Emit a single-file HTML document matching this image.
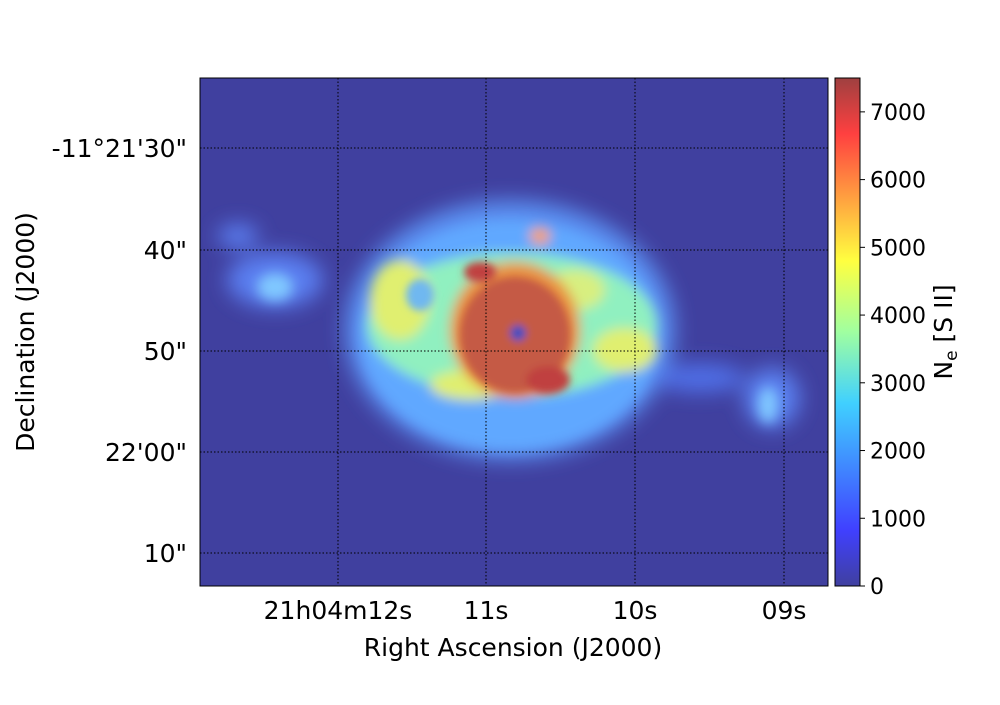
<!DOCTYPE html>
<html><head><meta charset="utf-8"><style>
body{margin:0;background:#fff;font-family:"Liberation Sans","DejaVu Sans",sans-serif}
svg text{font-family:"DejaVu Sans","Liberation Sans",sans-serif;fill:#000}
</style></head><body>
<svg width="1000" height="700" viewBox="0 0 1000 700">
<defs>
<filter id="b8" x="-50%" y="-50%" width="200%" height="200%"><feGaussianBlur stdDeviation="6"/></filter>
<filter id="b14" x="-50%" y="-50%" width="200%" height="200%"><feGaussianBlur stdDeviation="10"/></filter>
<filter id="b5" x="-50%" y="-50%" width="200%" height="200%"><feGaussianBlur stdDeviation="4"/></filter>
<linearGradient id="jet" x1="0" y1="1" x2="0" y2="0">
<stop offset="0" stop-color="#40409f"/><stop offset="0.11" stop-color="#4040ff"/>
<stop offset="0.36" stop-color="#40d0ff"/><stop offset="0.5" stop-color="#a0ffa0"/>
<stop offset="0.64" stop-color="#ffff40"/><stop offset="0.89" stop-color="#ff4040"/>
<stop offset="1" stop-color="#9f4040"/></linearGradient>
<clipPath id="clip"><rect x="200" y="78" width="628" height="508"/></clipPath>
</defs>
<g>
<rect x="200" y="78" width="628" height="508" fill="#40409f"/>
<g clip-path="url(#clip)">
<g filter="url(#b14)">
<ellipse cx="510" cy="330" rx="165" ry="130" fill="#5a8ef0"/>
<ellipse cx="275" cy="280" rx="48" ry="28" fill="#5a7ef0"/>
<ellipse cx="238" cy="236" rx="20" ry="12" fill="#5a7ef0"/>
<ellipse cx="772" cy="398" rx="28" ry="30" fill="#5a80f0"/>
<ellipse cx="700" cy="378" rx="45" ry="14" fill="#5070e8"/>
</g>
<g filter="url(#b8)">
<ellipse cx="510" cy="335" rx="150" ry="115" fill="#60a8ff"/>
<ellipse cx="275" cy="287" rx="18" ry="14" fill="#80c8ff"/>
<ellipse cx="768" cy="405" rx="10" ry="18" fill="#80c8ff"/>
<ellipse cx="512" cy="325" rx="145" ry="72" fill="#90f0c0"/>
<ellipse cx="400" cy="300" rx="30" ry="40" fill="#e0ef70"/>
<ellipse cx="625" cy="350" rx="32" ry="22" fill="#e0ef70"/>
<ellipse cx="470" cy="385" rx="40" ry="15" fill="#e0ef70"/>
<ellipse cx="575" cy="290" rx="30" ry="20" fill="#d8ef80"/>
<ellipse cx="540" cy="236" rx="10" ry="8" fill="#ffa040"/>
<ellipse cx="515" cy="330" rx="65" ry="68" fill="#e89040"/>
</g>
<g filter="url(#b5)">
<ellipse cx="420" cy="295" rx="14" ry="16" fill="#70b8f0"/>
<ellipse cx="515" cy="335" rx="55" ry="58" fill="#c55a45"/>
<ellipse cx="480" cy="272" rx="16" ry="10" fill="#c04040"/>
<ellipse cx="548" cy="380" rx="22" ry="14" fill="#c04040"/>
<ellipse cx="518" cy="333" rx="8" ry="8" fill="#4050c0"/>
</g>
</g>
</g>
<g stroke="#000" stroke-width="1" stroke-dasharray="1.5,2">
<line x1="338" y1="78" x2="338" y2="586"/><line x1="486" y1="78" x2="486" y2="586"/>
<line x1="635" y1="78" x2="635" y2="586"/><line x1="784" y1="78" x2="784" y2="586"/>
<line x1="200" y1="148" x2="828" y2="148"/><line x1="200" y1="250" x2="828" y2="250"/>
<line x1="200" y1="351" x2="828" y2="351"/><line x1="200" y1="452" x2="828" y2="452"/>
<line x1="200" y1="553" x2="828" y2="553"/>
</g>
<rect x="200" y="78" width="628" height="508" fill="none" stroke="#000" stroke-width="1"/>
<g font-size="25" text-anchor="end">
<text x="187" y="157">-11°21'30"</text><text x="187" y="259">40"</text>
<text x="187" y="360">50"</text><text x="187" y="461">22'00"</text><text x="187" y="562">10"</text>
</g>
<g font-size="25" text-anchor="middle">
<text x="338" y="619">21h04m12s</text><text x="486" y="619">11s</text>
<text x="635" y="619">10s</text><text x="784" y="619">09s</text>
</g>
<text x="513" y="656" font-size="25" text-anchor="middle">Right Ascension (J2000)</text>
<text transform="translate(34,332) rotate(-90)" font-size="25" text-anchor="middle">Declination (J2000)</text>
<g>
<rect x="835" y="78" width="25" height="508" fill="url(#jet)" stroke="#000" stroke-width="1"/>
<g font-size="22" id="cbt"></g>
<text transform="translate(952,332) rotate(-90)" font-size="25" text-anchor="middle">N<tspan font-size="17" dy="5">e</tspan><tspan dy="-5"> [S II]</tspan></text>
</g>
</svg>
<script>
const cbTicks=[0,1000,2000,3000,4000,5000,6000,7000];
const cbMax=7500;
const g=document.getElementById('cbt');
cbTicks.forEach(v=>{
 const y=586-v/cbMax*508;
 const l=document.createElementNS('http://www.w3.org/2000/svg','line');
 l.setAttribute('x1',860);l.setAttribute('x2',865);l.setAttribute('y1',y);l.setAttribute('y2',y);l.setAttribute('stroke','#000');
 
 
 g.appendChild(l);
 const t=document.createElementNS('http://www.w3.org/2000/svg','text');
 t.setAttribute('x',870);t.setAttribute('y',y+8);t.textContent=v;
 
 
 g.appendChild(t);
});
</script>
</body></html>
